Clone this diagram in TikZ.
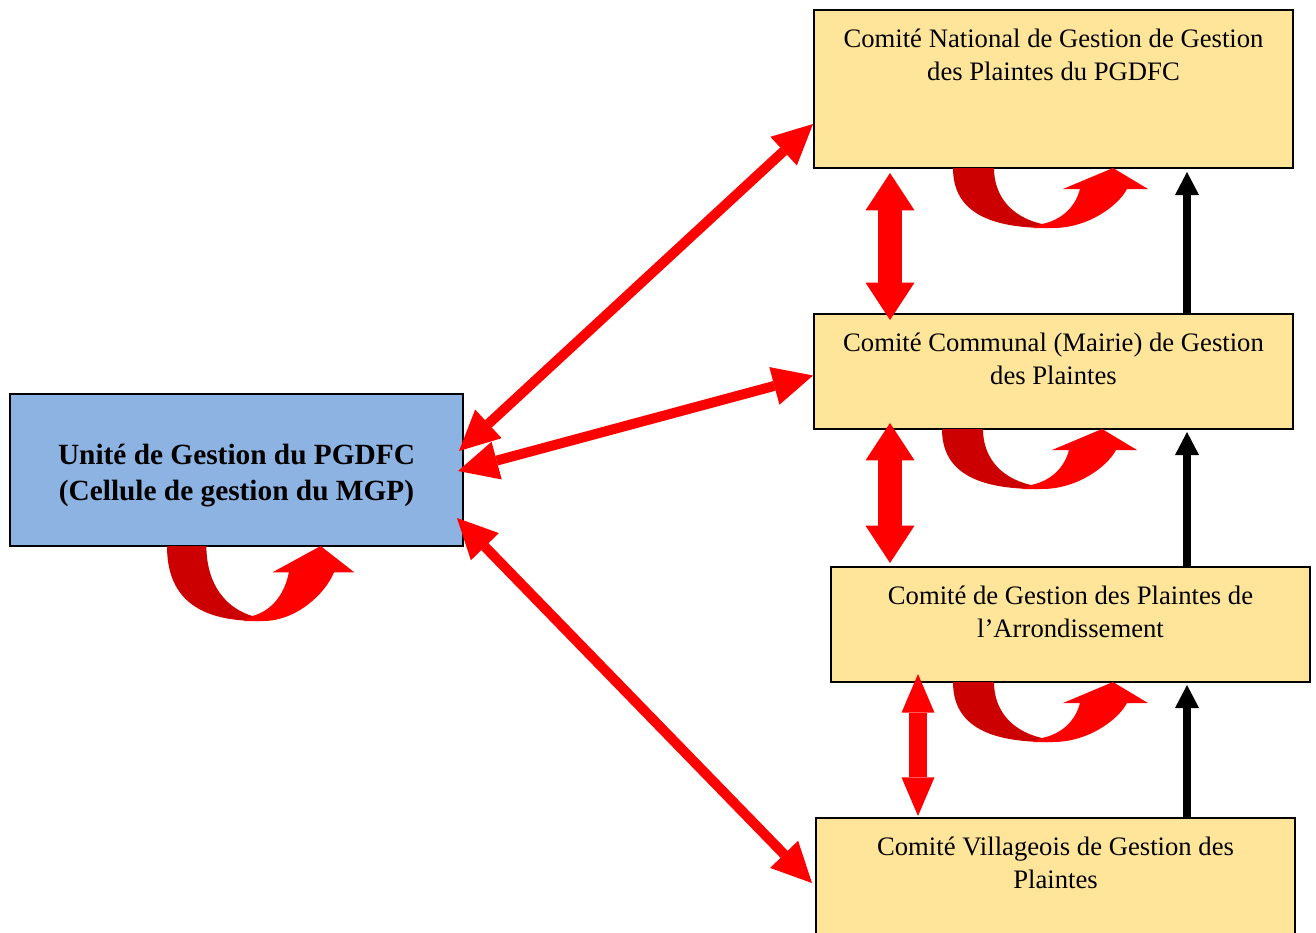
\documentclass[tikz,border=0pt]{standalone}
\usepackage{fontspec}
\setmainfont{Liberation Serif}
\usetikzlibrary{arrows.meta,calc,fit}
\definecolor{boxblue}{HTML}{8DB3E2}
\definecolor{boxyellow}{HTML}{FFE599}
\definecolor{darkred}{HTML}{CC0000}
\definecolor{brightred}{HTML}{FF0000}
\tikzset{
 cbox/.style={inner sep=0pt, draw=black, line width=1.5pt, fill=boxyellow},
 ubox/.style={inner sep=0pt, draw=black, line width=1.5pt, fill=boxblue},
 ctext/.style={align=center, anchor=north, inner sep=0pt, font=\fontsize{20}{24.75}\selectfont},
 utext/.style={align=center, inner sep=0pt, font=\fontsize{22}{27}\selectfont\bfseries},
 diagarrow/.style={draw=brightred, line width=7.5pt,
   {Triangle[length=30pt,width=29.25pt,line width=0pt]}-{Triangle[length=30pt,width=29.25pt,line width=0pt]}},
 vertarrow/.style={draw=brightred, line width=18pt,
   {Triangle[length=28pt,width=36.75pt,line width=0pt]}-{Triangle[length=28pt,width=36.75pt,line width=0pt]}},
 vertarrowthin/.style={draw=brightred, line width=13.5pt,
   {Triangle[length=29pt,width=24.75pt,line width=0pt]}-{Triangle[length=29pt,width=24.75pt,line width=0pt]}},
 blackarrow/.style={draw=black, line width=6pt,
   -{Triangle[length=17.25pt,width=18pt,line width=0pt]}}
}
\newcommand\uturnarrow[2]{%
 \begin{scope}[shift={#1},#2]
  \fill[darkred] (0,0) -- (41,0) .. controls (41,25) and (55,48) .. (89,56)
     -- (95,60) .. controls (30,60) and (0,40) .. (0,0) -- cycle;
  \fill[brightred] (80,60) -- (100,60) .. controls (135,60) and (165,38) .. (174,21)
     -- (195,21) -- (160,0) -- (110,21) -- (127,21)
     .. controls (122,40) and (108,52) .. (89,56) -- cycle;
 \end{scope}}
\begin{document}
\begin{tikzpicture}[x=0.75pt,y=-0.75pt]
\useasboundingbox (0,0) rectangle (1316,932);
\clip (0,0) rectangle (1316,932);
% boxes
\node[ubox, fit={(10,394) (463,546)}] (uni) {};
\node[cbox, fit={(814,10) (1293,168)}] (nat) {};
\node[cbox, fit={(814,314) (1293,429)}] (com) {};
\node[cbox, fit={(831,567) (1310,682)}] (arr) {};
\node[cbox, fit={(816,818) (1295,960)}] (vil) {};
% texts
\node[utext] (uniT) at ($(uni.center)+(0,6)$) {Unité de Gestion du PGDFC\\(Cellule de gestion du MGP)};
\node[ctext] (natT) at ($(nat.north)+(0,20)$) {Comité National de Gestion de Gestion\\des Plaintes du PGDFC};
\node[ctext] (comT) at ($(com.north)+(0,20)$) {Comité Communal (Mairie) de Gestion\\des Plaintes};
\node[ctext] (arrT) at ($(arr.north)+(0,20)$) {Comité de Gestion des Plaintes de\\l’Arrondissement};
\node[ctext] (vilT) at ($(vil.north)+(0,20)$) {Comité Villageois de Gestion des\\Plaintes};
% u-turn arrows
\uturnarrow{(167,546)}{xscale=0.96,yscale=1.25}
\uturnarrow{(953,168)}{}
\uturnarrow{(942,429)}{}
\uturnarrow{(953,682)}{}
% diagonal double arrows
\draw[diagarrow] ($(uni.north east)+(-5,58)$) -- ($(nat.south west)+(0,-45)$);
\draw[diagarrow] ($(uni.north east)+(-6,78)$) -- ($(com.west)+(0,4)$);
\draw[diagarrow] ($(uni.south east)+(-7,-29)$) -- ($(vil.north west)+(-3,66)$);
% vertical double arrows
\draw[vertarrow] ($(nat.south west)+(77,4)$) -- ($(com.north west)+(77,7)$);
\draw[vertarrow] ($(com.south west)+(77,-7)$) -- ($(arr.north west)+(60,-3)$);
\draw[vertarrowthin] ($(arr.south west)+(88,-9)$) -- ($(vil.north west)+(103,-1)$);
% black arrows
\draw[blackarrow] ($(com.north west)+(374,0)$) -- ($(nat.south west)+(374,3)$);
\draw[blackarrow] ($(arr.north west)+(357,0)$) -- ($(com.south west)+(374,2)$);
\draw[blackarrow] ($(vil.north west)+(372,0)$) -- ($(arr.south west)+(357,2)$);
\end{tikzpicture}
\end{document}
